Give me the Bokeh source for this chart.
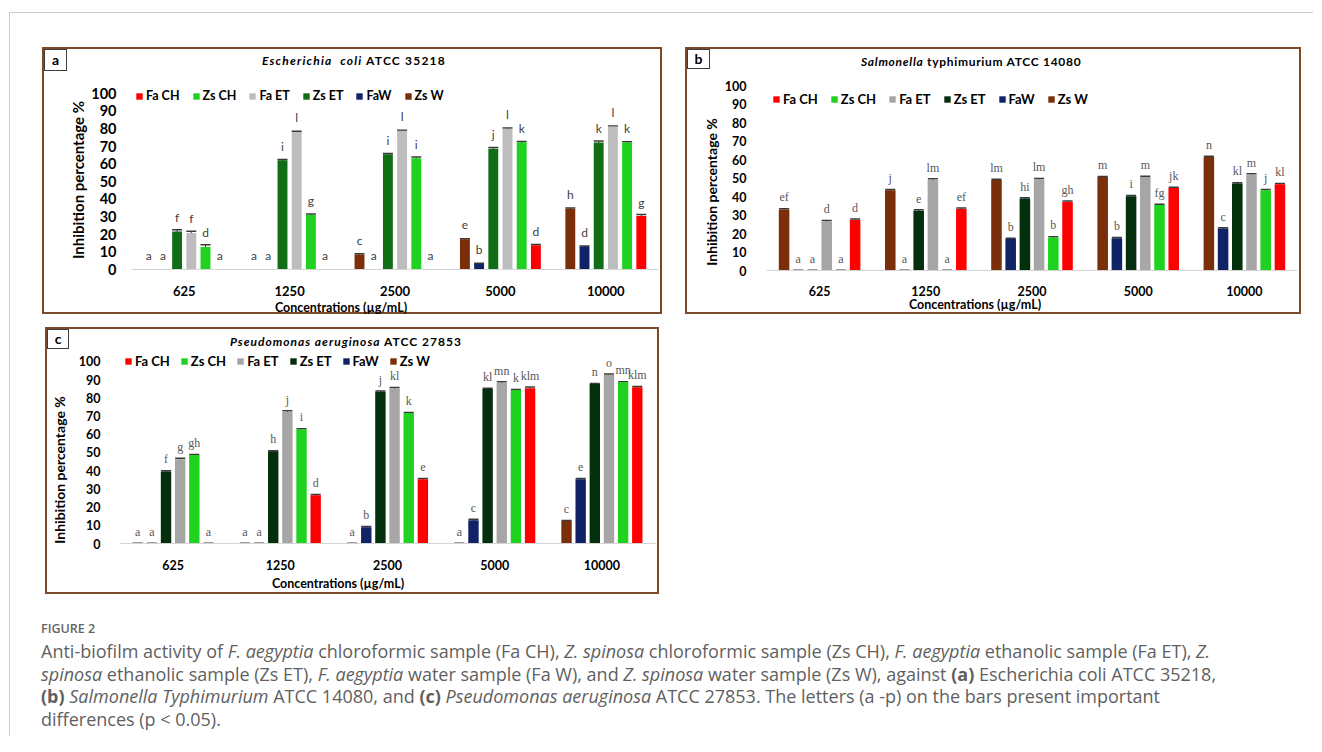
from bokeh.plotting import figure
from bokeh.models import (ColumnDataSource, FactorRange, Range1d, Legend, LegendItem,
                          Whisker, TeeHead, FixedTicker, Spacer, Div)
from bokeh.layouts import column, row
from bokeh.transform import dodge
from bokeh.core.properties import value
from bokeh.embed import file_html
from bokeh.resources import INLINE

# ---------------- data ----------------
CONCENTRATIONS = ["625", "1250", "2500", "5000", "10000"]
LEGEND_ORDER = ["Fa CH", "Zs CH", "Fa ET", "Zs ET", "FaW", "Zs W"]
BAR_ORDER = ["Zs W", "FaW", "Zs ET", "Fa ET", "Zs CH", "Fa CH"]
Y_TICKS = [0, 10, 20, 30, 40, 50, 60, 70, 80, 90, 100]

# (a) Escherichia coli ATCC 35218
A_ZS_W = [0, 0, 8.5, 17.1, 34.4]
A_FA_W = [0, 0, 0, 3.3, 13.0]
A_ZS_ET = [21.5, 61.9, 65.3, 68.4, 72.0]
A_FA_ET = [20.7, 78.0, 78.6, 79.8, 81.0]
A_ZS_CH = [12.8, 30.9, 63.0, 72.1, 72.0]
A_FA_CH = [0, 0, 0, 13.8, 30.3]
A_ZS_W_LET = ["a", "a", "c", "e", "h"]
A_FA_W_LET = ["a", "a", "a", "b", "d"]
A_ZS_ET_LET = ["f", "i", "i", "j", "k"]
A_FA_ET_LET = ["f", "l", "l", "l", "l"]
A_ZS_CH_LET = ["d", "g", "i", "k", "k"]
A_FA_CH_LET = ["a", "a", "a", "d", "g"]
A_ZS_W_ERR = [0, 0, 0.4, 0.4, 0.4]
A_FA_W_ERR = [0, 0, 0, 0.3, 0.3]
A_ZS_ET_ERR = [1.0, 0.4, 0.5, 0.8, 0.8]
A_FA_ET_ERR = [1.0, 0.4, 0.4, 0.4, 0.4]
A_ZS_CH_ERR = [1.2, 0.6, 0.8, 0.4, 0.4]
A_FA_CH_ERR = [0, 0, 0, 0.4, 0.9]

# (b) Salmonella typhimurium ATCC 14080
B_ZS_W = [33.0, 43.4, 48.9, 50.5, 61.4]
B_FA_W = [0, 0, 17.0, 17.5, 22.7]
B_ZS_ET = [0, 32.3, 38.9, 40.2, 47.1]
B_FA_ET = [26.6, 49.1, 49.3, 50.5, 51.8]
B_ZS_CH = [0, 0, 17.9, 35.4, 43.4]
B_FA_CH = [27.3, 33.2, 37.1, 44.6, 46.6]
B_ZS_W_LET = ["ef", "j", "lm", "m", "n"]
B_FA_W_LET = ["a", "a", "b", "b", "c"]
B_ZS_ET_LET = ["a", "e", "hi", "i", "kl"]
B_FA_ET_LET = ["d", "lm", "lm", "m", "m"]
B_ZS_CH_LET = ["a", "a", "b", "fg", "j"]
B_FA_CH_LET = ["d", "ef", "gh", "jk", "kl"]
B_ZS_W_ERR = [0.4, 0.4, 0.4, 0.4, 0.4]
B_FA_W_ERR = [0.2, 0.2, 0.4, 0.4, 0.4]
B_ZS_ET_ERR = [0.2, 0.6, 0.4, 0.4, 0.4]
B_FA_ET_ERR = [0.5, 0.5, 0.5, 0.5, 0.5]
B_ZS_CH_ERR = [0.2, 0.2, 0.3, 0.4, 0.4]
B_FA_CH_ERR = [0.6, 0.6, 0.5, 0.4, 0.4]

# (c) Pseudomonas aeruginosa ATCC 27853
C_ZS_W = [0, 0, 0, 0, 12.4]
C_FA_W = [0, 0, 8.9, 12.8, 35.3]
C_ZS_ET = [39.6, 50.6, 83.4, 84.9, 87.6]
C_FA_ET = [46.3, 72.4, 85.2, 88.3, 92.6]
C_ZS_CH = [48.6, 62.7, 71.7, 84.3, 88.5]
C_FA_CH = [0, 26.5, 35.3, 85.2, 85.8]
C_ZS_W_LET = ["a", "a", "a", "a", "c"]
C_FA_W_LET = ["a", "a", "b", "c", "e"]
C_ZS_ET_LET = ["f", "h", "j", "kl", "n"]
C_FA_ET_LET = ["g", "j", "kl", "mn", "o"]
C_ZS_CH_LET = ["gh", "i", "k", "k", "mn"]
C_FA_CH_LET = ["a", "d", "e", "klm", "klm"]
C_ZS_W_ERR = [0.2, 0.2, 0.2, 0.2, 0.3]
C_FA_W_ERR = [0.2, 0.2, 0.4, 0.5, 0.4]
C_ZS_ET_ERR = [0.4, 0.4, 0.3, 0.3, 0.3]
C_FA_ET_ERR = [0.5, 0.5, 0.5, 0.5, 0.5]
C_ZS_CH_ERR = [0.3, 0.3, 0.3, 0.3, 0.3]
C_FA_CH_ERR = [0.2, 0.4, 0.4, 0.8, 0.4]

# ---------------- styling ----------------
FONT = "Lato"
BORDER = "#7b4a2b"

COLORS_A = {"Fa CH": "#ff0000", "Zs CH": "#1fd21f", "Fa ET": "#bdbdbd",
            "Zs ET": "#126e16", "FaW": "#0f2366", "Zs W": "#7a2e0a"}
COLORS_BC = {"Fa CH": "#ff0000", "Zs CH": "#1fd21f", "Fa ET": "#a6a6a6",
             "Zs ET": "#032f0c", "FaW": "#0f2366", "Zs W": "#7a2e0a"}


def build_figure(vals, lets, errs, colors, g):
    p = figure(x_range=FactorRange(factors=CONCENTRATIONS, range_padding=0),
               y_range=Range1d(0, 106), width=g["fw"], height=g["fh"],
               output_backend="svg", toolbar_location=None,
               min_border_left=g["ml"], min_border_right=2,
               min_border_top=0, min_border_bottom=26, margin=0)
    p.outline_line_color = None
    p.xgrid.visible = False
    p.ygrid.visible = False

    p.yaxis.ticker = FixedTicker(ticks=Y_TICKS)
    p.yaxis.axis_line_color = None
    p.yaxis.major_tick_line_color = None
    p.yaxis.minor_tick_line_color = None
    p.yaxis.major_label_standoff = g["ysd"]
    p.yaxis.major_label_text_font = FONT
    p.yaxis.major_label_text_font_style = "bold"
    p.yaxis.major_label_text_font_size = g["ytfs"]
    p.yaxis.major_label_text_color = "black"

    p.xaxis.axis_line_color = "#d4d4d4"
    p.xaxis.axis_line_width = 1
    p.xaxis.major_tick_line_color = None
    p.xaxis.minor_tick_line_color = None
    p.xaxis.major_label_standoff = g["xsd"]
    p.xaxis.major_label_text_font = FONT
    p.xaxis.major_label_text_font_style = "bold"
    p.xaxis.major_label_text_font_size = g["xtfs"]
    p.xaxis.major_label_text_color = "black"

    renderers = {}
    n = len(BAR_ORDER)
    for i, name in enumerate(BAR_ORDER):
        off = (i - (n - 1) / 2) * g["pitch"]
        v, lab, e = vals[name], lets[name], errs[name]
        src = ColumnDataSource(dict(conc=CONCENTRATIONS, top=v, lab=lab))
        r = p.vbar(x=dodge("conc", off, range=p.x_range), top="top", width=g["bw"],
                   source=src, fill_color=colors[name], line_color=None)
        renderers[name] = r
        ec = [c for c, ev in zip(CONCENTRATIONS, e) if ev > 0]
        eh = [vv + ev for vv, ev in zip(v, e) if ev > 0]
        el = [max(vv - ev, 0) for vv, ev in zip(v, e) if ev > 0]
        if ec:
            esrc = ColumnDataSource(dict(conc=ec, hi=eh, lo=el))
            p.add_layout(Whisker(source=esrc, base=dodge("conc", off, range=p.x_range),
                                 upper="hi", lower="lo", line_color="#3a3a3a", line_width=1,
                                 upper_head=TeeHead(size=10, line_color="#3a3a3a", line_width=1.5),
                                 lower_head=None))
        p.text(x=dodge("conc", off, range=p.x_range), y="top", text="lab", source=src,
               text_align="center", text_baseline="middle", y_offset=-g["loff"],
               text_font=value(g["lfont"]), text_font_size=value("12px"),
               text_color=value(g["lcol"]))

    items = [LegendItem(label=nm, renderers=[renderers[nm]]) for nm in LEGEND_ORDER]
    leg = Legend(items=items, orientation="horizontal", location=g["legloc"],
                 padding=0, margin=0, spacing=g["legsp"], glyph_width=8, glyph_height=8,
                 label_standoff=3, label_height=12, label_width=0,
                 label_text_font=FONT, label_text_font_style="bold",
                 label_text_font_size=g["legfs"], label_text_color="black",
                 border_line_color=None, background_fill_alpha=0)
    p.add_layout(leg)
    return p


def abs_text(x, y, html, font, extra=""):
    return ('<div style="position:absolute;left:%spx;top:%spx;white-space:nowrap;'
            'font:%s;color:black;line-height:1;%s">%s</div>' % (x, y, font, extra, html))


def build_panel(vals, lets, errs, colors, g):
    W = g["iw"]
    hh, fh, fth = g["hh"], g["fh"], g["fth"]
    box = ('<div style="position:absolute;left:0;top:0;width:%spx;height:%spx;'
           'border:1.5px solid #3c3c3c;background:white;text-align:center;'
           'font:bold 14px Lato;line-height:%spx;color:black;">%s</div>'
           % (g["boxw"] - 3, g["boxh"] - 3, g["boxh"] - 3, g["letter"]))
    title = abs_text(g["tx"], g["ty"], '<i>%s</i> %s' % (g["title_it"], g["title_rm"]),
                     "bold %s Lato" % g["tfs"],
                     "transform:translateY(-50%%);letter-spacing:%spx;" % g["tls"])
    header = Div(text='<div style="position:relative;width:%spx;height:%spx;">%s%s</div>'
                 % (W, hh, box, title), width=W, height=hh, margin=0)
    ytit = abs_text(g["yx"], g["yy"], "Inhibition percentage %",
                    "bold %s Lato" % g["ytitfs"],
                    "transform:translate(-50%,-50%) rotate(-90deg);")
    ydiv = Div(text='<div style="position:relative;width:%spx;height:%spx;">%s</div>'
               % (g["yw"], fh, ytit), width=g["yw"], height=fh, margin=0)
    g["fw"] = W - g["yw"]
    p = build_figure(vals, lets, errs, colors, g)
    xtit = abs_text(g["xx"], g["xy"], "Concentrations (µg/mL)",
                    "bold %s Lato" % g["xtitfs"], "transform:translate(-50%,-50%);")
    footer = Div(text='<div style="position:relative;width:%spx;height:%spx;">%s</div>'
                 % (W, fth, xtit), width=W, height=fth, margin=0)
    return column(header, row(ydiv, p, spacing=0), footer, spacing=0,
                  styles={"border": "2px solid " + BORDER, "box-sizing": "content-box",
                          "background": "white"})


GEO_A = dict(iw=616, hh=33, fh=216, fth=14, yw=44, ml=39, pitch=0.1347, bw=0.094,
             ysd=9, xsd=10, ytfs="14.5px", xtfs="13px", loff=14, lfont="Lato",
             lcol="#404040", legloc=(4, 166), legsp=12, legfs="12.5px", letter="a",
             boxw=24, boxh=23, tx=218, ty=12, title_it="Escherichia&nbsp; coli",
             title_rm="ATCC 35218", tfs="12px", tls=1.2, yx=34, yy=98, ytitfs="15px",
             xx=297, xy=10, xtitfs="12.5px")
GEO_B = dict(iw=612, hh=25, fh=224, fth=14, yw=34, ml=38, pitch=0.1338, bw=0.0994,
             ysd=14, xsd=9, ytfs="12.5px", xtfs="12.5px", loff=12, lfont="Liberation Serif",
             lcol="#595959", legloc=(6, 163), legsp=12, legfs="13px", letter="b",
             boxw=24, boxh=21, tx=174, ty=13, title_it="Salmonella",
             title_rm="typhimurium ATCC 14080", tfs="12px", tls=0.7, yx=25, yy=117.5,
             ytitfs="14px", xx=288, xy=7, xtitfs="12.5px")
GEO_C = dict(iw=610, hh=21, fh=222, fth=20, yw=28, ml=38, pitch=0.132, bw=0.097,
             ysd=13, xsd=10, ytfs="12.5px", xtfs="12.5px", loff=12, lfont="Liberation Serif",
             lcol="#595959", legloc=(5, 174), legsp=10, legfs="13px", letter="c",
             boxw=23, boxh=21, tx=183, ty=12.5, title_it="Pseudomonas aeruginosa",
             title_rm="ATCC 27853", tfs="12px", tls=1.0, yx=13, yy=120, ytitfs="14px",
             xx=291, xy=12, xtitfs="12.5px")


def pack(series_vals, series_lets, series_errs):
    return (dict(zip(BAR_ORDER, series_vals)), dict(zip(BAR_ORDER, series_lets)),
            dict(zip(BAR_ORDER, series_errs)))


va, la, ea = pack([A_ZS_W, A_FA_W, A_ZS_ET, A_FA_ET, A_ZS_CH, A_FA_CH],
                  [A_ZS_W_LET, A_FA_W_LET, A_ZS_ET_LET, A_FA_ET_LET, A_ZS_CH_LET, A_FA_CH_LET],
                  [A_ZS_W_ERR, A_FA_W_ERR, A_ZS_ET_ERR, A_FA_ET_ERR, A_ZS_CH_ERR, A_FA_CH_ERR])
vb, lb, eb = pack([B_ZS_W, B_FA_W, B_ZS_ET, B_FA_ET, B_ZS_CH, B_FA_CH],
                  [B_ZS_W_LET, B_FA_W_LET, B_ZS_ET_LET, B_FA_ET_LET, B_ZS_CH_LET, B_FA_CH_LET],
                  [B_ZS_W_ERR, B_FA_W_ERR, B_ZS_ET_ERR, B_FA_ET_ERR, B_ZS_CH_ERR, B_FA_CH_ERR])
vc, lc, ec_ = pack([C_ZS_W, C_FA_W, C_ZS_ET, C_FA_ET, C_ZS_CH, C_FA_CH],
                   [C_ZS_W_LET, C_FA_W_LET, C_ZS_ET_LET, C_FA_ET_LET, C_ZS_CH_LET, C_FA_CH_LET],
                   [C_ZS_W_ERR, C_FA_W_ERR, C_ZS_ET_ERR, C_FA_ET_ERR, C_ZS_CH_ERR, C_FA_CH_ERR])

panel_a = build_panel(va, la, ea, COLORS_A, GEO_A)
panel_b = build_panel(vb, lb, eb, COLORS_BC, GEO_B)
panel_c = build_panel(vc, lc, ec_, COLORS_BC, GEO_C)

caption_html = (
    '<div style="font-family:\'Open Sans\',sans-serif;color:#5f5f5f;padding-left:31px;">'
    '<div style="font-size:12.5px;line-height:22px;font-weight:600;color:#646464;">FIGURE 2</div>'
    '<div style="font-size:18px;line-height:22.7px;white-space:nowrap;">'
    'Anti-biofilm activity of <i>F. aegyptia</i> chloroformic sample (Fa CH), <i>Z. spinosa</i> '
    'chloroformic sample (Zs CH), <i>F. aegyptia</i> ethanolic sample (Fa ET), <i>Z.</i><br>'
    '<i>spinosa</i> ethanolic sample (Zs ET), <i>F. aegyptia</i> water sample (Fa W), and '
    '<i>Z. spinosa</i> water sample (Zs W), against <b>(a)</b> Escherichia coli ATCC 35218,<br>'
    '<b>(b)</b> <i>Salmonella Typhimurium</i> ATCC 14080, and <b>(c)</b> <i>Pseudomonas '
    'aeruginosa</i> ATCC 27853. The letters (a -p) on the bars present important<br>'
    'differences (p &lt; 0.05).</div></div>'
)
caption = Div(text=caption_html, width=1290, height=118, margin=0)

layout = column(
    Spacer(height=34),
    row(Spacer(width=32), panel_a, Spacer(width=23), panel_b, Spacer(width=12), spacing=0),
    Spacer(height=13),
    row(Spacer(width=35), panel_c, spacing=0),
    Spacer(height=24),
    caption,
    spacing=0,
    styles={"border-left": "1px solid #cccccc", "border-top": "1px solid #cccccc",
            "margin-left": "9px", "margin-top": "12px"},
)

open("out.html", "w").write(file_html(layout, INLINE))
